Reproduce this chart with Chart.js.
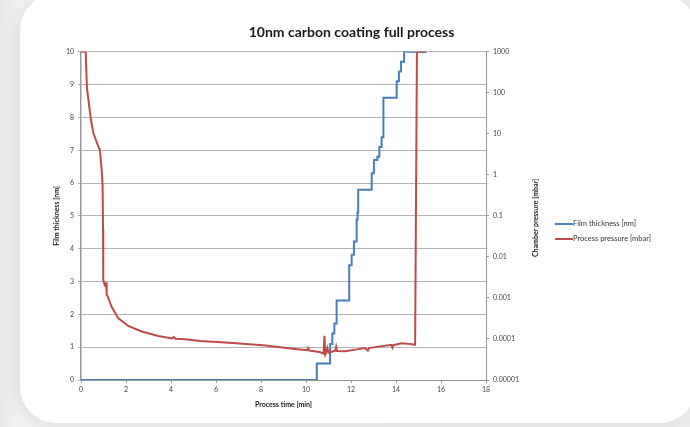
<!DOCTYPE html>
<html>
<head>
<meta charset="utf-8">
<script src="https://cdn.jsdelivr.net/npm/chart.js@4.4.1/dist/chart.umd.min.js"></script>
<style>
  html, body { margin: 0; padding: 0; }
  body {
    width: 690px; height: 427px; overflow: hidden; position: relative;
    background: linear-gradient(90deg, #e9e9e9 0px, #f1f1f1 20px, #ececec 100%);
  }
  .card {
    position: absolute; left: 20px; top: -6px; width: 676px; height: 429px;
    background: #fff; border-radius: 36px;
    box-shadow: -4px 2px 14px rgba(0, 0, 0, 0.07);
  }
  #chart-wrap { position: absolute; left: 0; top: 0; width: 690px; height: 427px; }
</style>
</head>
<body>
<div class="card"></div>
<div id="chart-wrap"><canvas id="coating-chart"></canvas></div>
<script>
// film thickness steps: time [min] at which the reading changes, new value [nm]
const filmTime = [0, 10.48, 11.07, 11.17, 11.26, 11.36, 11.92, 12.03, 12.13, 12.25, 12.29, 12.32,
    12.92, 13.02, 13.17, 13.26, 13.36, 13.44, 14.03, 14.13, 14.22, 14.36, 15.36];
const filmThickness = [0, 0.5, 1.1, 1.42, 1.72, 2.42, 3.5, 3.82, 4.22, 4.88, 5.1, 5.8,
    6.3, 6.7, 6.8, 7.1, 7.4, 8.6, 9.1, 9.4, 9.7, 10, 10];

// chamber pressure [mbar]
const pressureTime = [0, 0.21, 0.24, 0.27, 0.33, 0.44, 0.55, 0.77, 0.84, 0.92, 0.96, 0.98, 0.99, 1.05,
    1.1, 1.12, 1.14, 1.18, 1.36, 1.66, 2.1, 2.7, 3.44, 4.05, 4.12, 4.2, 4.62, 5.3, 6.76, 8.2,
    9.6, 10.05, 10.1, 10.15, 10.3, 10.6, 10.78, 10.82, 10.86, 10.9, 10.95, 11.0, 11.3, 11.34, 11.38,
    11.73, 12.2, 12.62, 12.75, 12.8, 13.3, 13.8, 13.84, 13.88, 13.96, 14.25, 14.5, 14.85, 14.93, 15.36];
const pressureValues = [1000, 1000, 300, 120, 68, 22, 10.5, 4.9, 4.1, 1.3, 0.57, 0.046, 0.0028, 0.0021,
    0.0019, 0.0024, 0.0012, 0.0011, 0.00061, 0.00032, 0.000208, 0.000152, 0.000118, 0.000103, 0.000112, 0.000101, 0.000099, 0.000089, 0.00008, 0.000069,
    0.000056, 0.000053, 0.00006, 0.000052, 0.000051, 0.000048, 0.000044, 0.00012, 0.000042, 0.000047, 0.00006, 0.000046, 0.000052, 0.000065, 0.000051,
    0.00005, 0.000055, 0.00006, 0.000052, 0.00006, 0.000066, 0.000072, 0.000062, 0.000071, 0.000072, 0.000079, 0.000077, 0.000072, 1000, 1000];

const pressureTickValues = [0.00001, 0.0001, 0.001, 0.01, 0.1, 1, 10, 100, 1000];
const pressureTickLabels = ['0.00001', '0.0001', '0.001', '0.01', '0.1', '1', '10', '100', '1000'];

const chartTitle = '10nm carbon coating full process';
const pressureTitle = 'Chamber pressure [mbar]';

const tickFont = { family: 'Lato', size: 7 };

// right axis title reads bottom to top, and the legend sits right of it
const extraText = {
    id: 'extraText',
    afterDraw(chart) {
        const ctx = chart.ctx;
        const area = chart.chartArea;
        ctx.save();
        ctx.translate(536, (area.top + area.bottom) / 2 + 2);
        ctx.rotate(-Math.PI / 2);
        ctx.font = 'bold 7px Lato';
        ctx.fillStyle = '#1a1a1a';
        ctx.textAlign = 'center';
        ctx.textBaseline = 'middle';
        ctx.fillText(pressureTitle, 0, 0);
        ctx.restore();

        ctx.save();
        ctx.font = '7.5px Lato';
        ctx.textBaseline = 'middle';
        ctx.textAlign = 'left';
        chart.data.datasets.forEach((ds, i) => {
            const y = 224 + i * 15;
            ctx.strokeStyle = ds.borderColor;
            ctx.lineWidth = 2;
            ctx.beginPath();
            ctx.moveTo(555, y);
            ctx.lineTo(573, y);
            ctx.stroke();
            ctx.fillStyle = '#333';
            ctx.fillText(ds.label, 573, y);
        });
        ctx.restore();
    }
};

const ctx = document.getElementById('coating-chart').getContext('2d');
new Chart(ctx, {
    type: 'line',
    data: {
        datasets: [{
            label: 'Film thickness [nm]',
            data: filmTime.map((t, i) => ({ x: t, y: filmThickness[i] })),
            yAxisID: 'y',
            borderColor: '#4a7ebb',
            borderWidth: 2,
            pointRadius: 0,
            stepped: 'before',
            order: 2
        }, {
            label: 'Process pressure [mbar]',
            data: pressureTime.map((t, i) => ({ x: t, y: pressureValues[i] })),
            yAxisID: 'y2',
            borderColor: '#be4b48',
            borderWidth: 2,
            pointRadius: 0,
            tension: 0,
            order: 1
        }]
    },
    options: {
        responsive: true,
        maintainAspectRatio: false,
        animation: false,
        layout: { padding: { left: 20, right: 7, top: 24, bottom: 7 } },
        plugins: {
            legend: { display: false },
            tooltip: { enabled: false },
            title: {
                display: true,
                text: chartTitle,
                color: '#1a1a1a',
                font: { family: 'Lato', size: 14, weight: 'bold' },
                padding: { top: 0, bottom: 11 }
            }
        },
        scales: {
            x: {
                type: 'linear',
                min: 0,
                max: 18,
                ticks: { stepSize: 2, font: tickFont, color: '#444', padding: 3 },
                grid: { drawOnChartArea: false, tickLength: 3, color: '#999' },
                border: { color: '#999', width: 1 },
                title: {
                    display: true,
                    text: 'Process time [min]',
                    color: '#1a1a1a',
                    font: { family: 'Lato', size: 7, weight: 'bold' },
                    padding: { top: 0, bottom: 11 }
                },
                afterFit(scale) { scale.height = 40; }
            },
            y: {
                type: 'linear',
                position: 'left',
                min: 0,
                max: 10,
                ticks: { stepSize: 1, font: tickFont, color: '#444', padding: 4 },
                grid: { color: '#b4b4b4', tickLength: 3 },
                border: { color: '#999', width: 1.5 },
                title: {
                    display: true,
                    text: 'Film thickness [nm]',
                    color: '#1a1a1a',
                    font: { family: 'Lato', size: 7, weight: 'bold' },
                    padding: { top: 33, bottom: 0 }
                },
                afterFit(scale) { scale.width = 61; }
            },
            y2: {
                type: 'logarithmic',
                position: 'right',
                min: 0.00001,
                max: 1000,
                afterBuildTicks(scale) {
                    scale.ticks = pressureTickValues.map(v => ({ value: v }));
                },
                ticks: {
                    font: tickFont,
                    color: '#444',
                    padding: 4,
                    callback: (value, index) => pressureTickLabels[index]
                },
                grid: { drawOnChartArea: false, tickLength: 3, color: '#999' },
                border: { color: '#999', width: 1 },
                afterFit(scale) { scale.width = 197; }
            }
        }
    },
    plugins: [extraText]
});
</script>
</body>
</html>
